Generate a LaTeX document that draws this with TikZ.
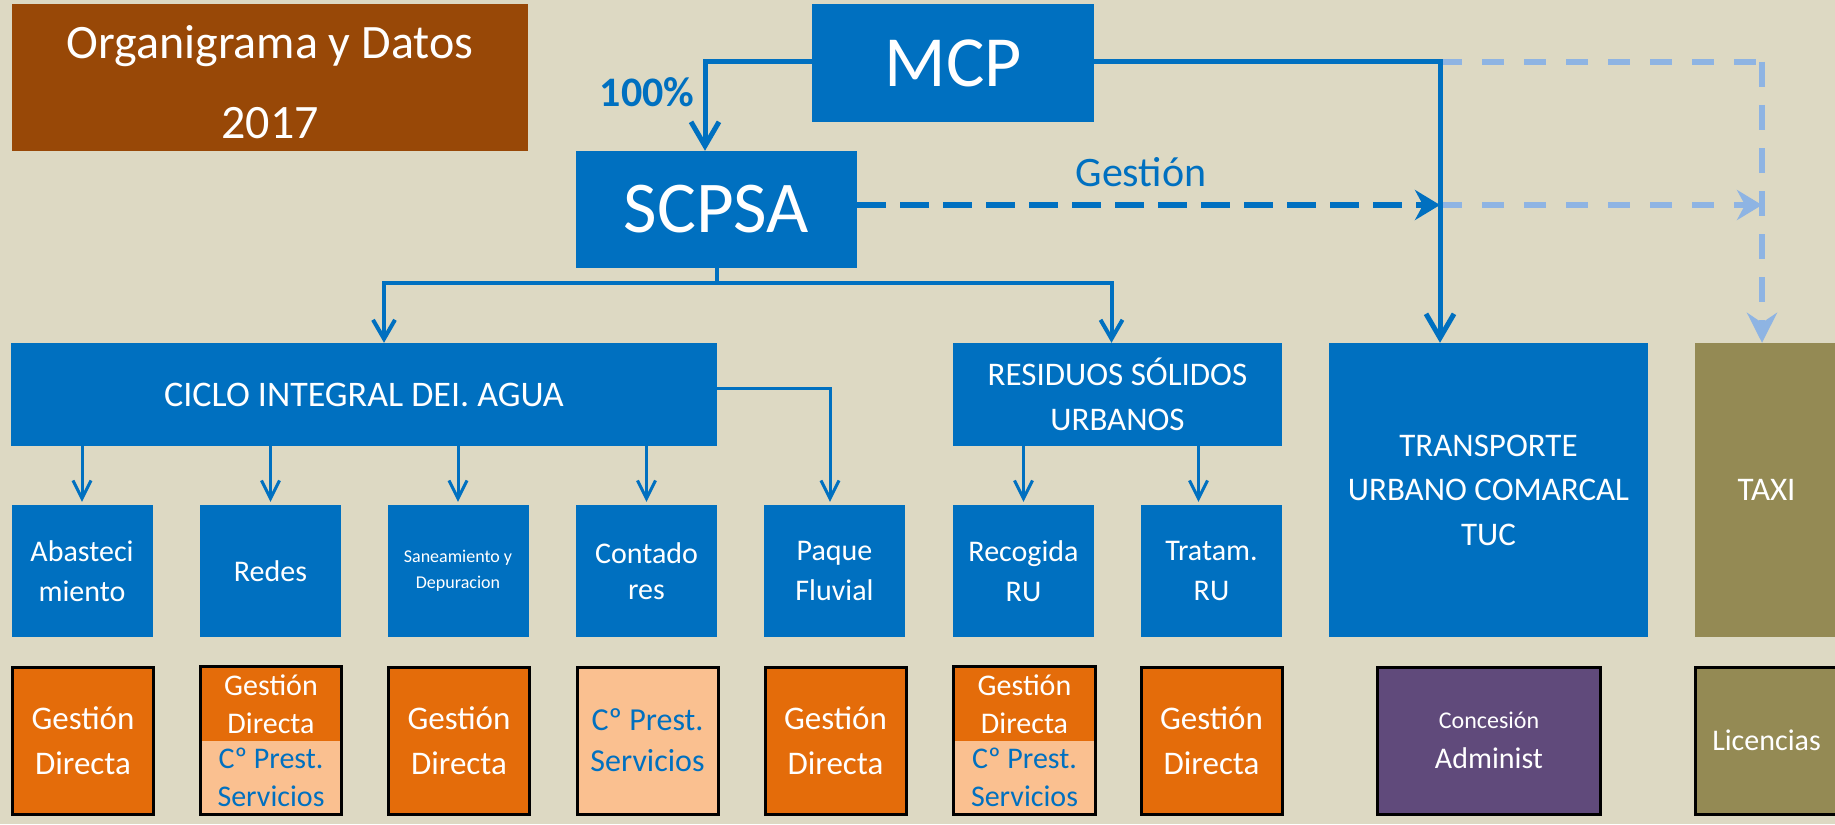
\documentclass[tikz,border=0pt]{standalone}
\usepackage{fontspec}
\setmainfont{Carlito}
\usetikzlibrary{arrows.meta}
\definecolor{bgc}{HTML}{DDD9C3}
\definecolor{mblue}{HTML}{0070C0}
\definecolor{titlebrown}{HTML}{984807}
\definecolor{orng}{HTML}{E46C0A}
\definecolor{peach}{HTML}{FAC090}
\definecolor{purp}{HTML}{604A7B}
\definecolor{olivebox}{HTML}{948A54}
\definecolor{lblue}{HTML}{8EB4E3}
\begin{document}
\begin{tikzpicture}[x=1pt,y=-1pt,
  blk/.style={rectangle,inner sep=0pt,align=center,text=white,fill=mblue},
  childbox/.style={blk,minimum width=141pt,minimum height=132pt,font=\fontsize{30}{40}\selectfont},
  bot/.style={rectangle,inner sep=0pt,align=center,draw=black,line width=3pt,minimum width=141pt,minimum height=147pt},
  gd/.style={bot,fill=orng,text=white,font=\fontsize{33}{45}\selectfont},
  half/.style={rectangle,inner sep=0pt,align=center,minimum width=141pt,font=\fontsize{30}{38}\selectfont},
  conn/.style={draw=mblue,line width=5pt,-{Straight Barb[length=24pt,width=28pt]}},
  connb/.style={draw=mblue,line width=4pt,-{Straight Barb[length=19pt,width=22pt]}},
  conns/.style={draw=mblue,line width=3pt,-{Straight Barb[length=18pt,width=18pt]},shorten >=3pt},
  ddash/.style={draw=mblue,line width=6pt,dash pattern=on 29pt off 14pt},
  ldash/.style={draw=lblue,line width=6pt,dash pattern=on 22pt off 20pt},
  vdash/.style={draw=lblue,line width=6pt,dash pattern=on 25pt off 18pt},
]
\clip (0,0) rectangle (1835,824);
\fill[bgc] (0,0) rectangle (1835,824);

% top nodes
\node[blk,fill=titlebrown,minimum width=516pt,minimum height=147pt,font=\fontsize{48}{80}\selectfont] (title) at (270,77.5) {\rule{0pt}{43pt}Organigrama y Datos\\2017};
\node[blk,minimum width=282pt,minimum height=118pt,font=\fontsize{72}{86}\selectfont] (mcp) at (953,63) {MCP};
\node[blk,minimum width=281pt,minimum height=117pt,font=\fontsize{73}{86}\selectfont] (scpsa) at (716.5,209.5) {SCPSA};

% second level
\node[blk,minimum width=706pt,minimum height=103pt,font=\fontsize{36}{45}\selectfont] (cia) at (364,394.5) {CICLO INTEGRAL DEI. AGUA};
\node[blk,minimum width=329pt,minimum height=103pt,font=\fontsize{33}{45}\selectfont] (rsu) at (1117.5,394.5) {RESIDUOS SÓLIDOS\\URBANOS};
\node[blk,minimum width=319pt,minimum height=294pt,font=\fontsize{33}{44.5}\selectfont] (tuc) at (1488.5,490) {TRANSPORTE\\URBANO COMARCAL\\TUC};
\node[blk,fill=olivebox,minimum width=143pt,minimum height=294pt,font=\fontsize{33}{44}\selectfont] (taxi) at (1766.5,490) {TAXI};

% children
\node[childbox] (abas) at (82,571) {Abasteci\\miento};
\node[childbox] (redes) at (270.5,571) {Redes};
\node[childbox,font=\fontsize{18}{26}\selectfont] (san) at (458,571) {Saneamiento y\\Depuracion};
\node[childbox,font=\fontsize{30}{36}\selectfont] (cont) at (646.5,571) {Contado\\res};
\node[childbox] (paq) at (834.5,571) {Paque\\Fluvial};
\node[childbox] (rec) at (1023.5,571) {Recogida\\RU};
\node[childbox] (trat) at (1211.5,571) {Tratam.\\RU};

% bottom row
\node[gd] (abasg) at (83,740.5) {Gestión\\Directa};
\node[half,fill=orng,text=white,minimum height=74pt] (redesg) at (271,704) {Gestión\\Directa};
\node[half,fill=peach,text=mblue,minimum height=73pt] (redesc) at (271,777.5) {Cº Prest.\\Servicios};
\draw[black,line width=3pt] (redesg.north west) rectangle (redesc.south east);
\node[gd] (sang) at (459,740.5) {Gestión\\Directa};
\node[bot,fill=peach,text=mblue,font=\fontsize{32}{41}\selectfont] (contc) at (647.5,740.5) {Cº Prest.\\Servicios};
\node[gd] (paqg) at (835.5,740.5) {Gestión\\Directa};
\node[half,fill=orng,text=white,minimum height=74pt] (recg) at (1024.5,704) {Gestión\\Directa};
\node[half,fill=peach,text=mblue,minimum height=73pt] (recc) at (1024.5,777.5) {Cº Prest.\\Servicios};
\draw[black,line width=3pt] (recg.north west) rectangle (recc.south east);
\node[gd] (tratg) at (1211.5,740.5) {Gestión\\Directa};
\node[bot,fill=purp,text=white,minimum width=223pt,font=\fontsize{30}{40}\selectfont] (conc) at (1489,740.5) {{\fontsize{24}{40}\selectfont Concesión}\\Administ};
\node[bot,fill=olivebox,text=white,minimum width=143pt,font=\fontsize{30}{40}\selectfont] (lic) at (1766.5,740.5) {Licencias};

% labels
\node[text=mblue,font=\bfseries\fontsize{42}{50}\selectfont] (pct) at (647,92) {100\%};
\node[text=mblue,font=\fontsize{42}{50}\selectfont,anchor=base] (gest) at (1141,186) {Gestión};

% junction coordinates
\coordinate (j1) at (1440,62);
\coordinate (j2) at (1762,62);
\coordinate (j3) at (1440,205);
\coordinate (bus) at (716.5,283);

% light dashed connectors
\draw[ldash] (j1) -- (j2);
\draw[vdash,-{Stealth[length=30pt,width=30pt,inset=10pt]}] (j2) -- (taxi.north -| j2);
\draw[ldash,-{Stealth[length=25pt,width=30pt,inset=8pt]}] (j3) -- (j3 -| j2);

% dark connectors
\draw[ddash,-{Stealth[length=25pt,width=30pt,inset=8pt]}] (scpsa.east |- j3) -- (j3);
\draw[conn] (mcp.east |- j1) -- (j1) -- (tuc.north -| j1);
\draw[conn] (mcp.west |- j1) -| ([xshift=-11.5pt]scpsa.north);
\draw[draw=mblue,line width=4pt] (scpsa.south) -- (bus);
\draw[connb] (bus) -| ([xshift=20pt]cia.north);
\draw[connb] (bus) -| ([xshift=-6pt]rsu.north);

\foreach \c in {abas,redes,san,cont}
  \draw[conns] (cia.south -| \c.north) -- (\c.north);
\coordinate (paqin) at ([xshift=-4.5pt]paq.north);
\draw[conns] ([yshift=6.5pt]cia.east) -| (paqin);
\draw[conns] (rsu.south -| rec.north) -- (rec.north);
\coordinate (tratin) at ([xshift=-13pt]trat.north);
\draw[conns] (rsu.south -| tratin) -- (tratin);
\end{tikzpicture}
\end{document}
